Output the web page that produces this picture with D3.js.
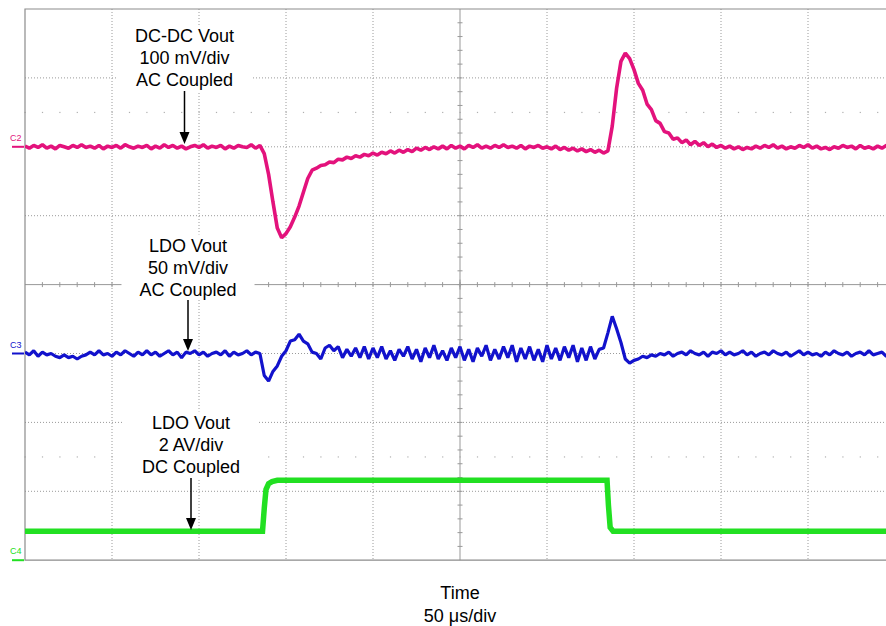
<!DOCTYPE html>
<html><head><meta charset="utf-8">
<script src="https://cdn.jsdelivr.net/npm/d3@7"></script>
<style>body{margin:0;background:#fff}svg{display:block}</style>
</head><body><svg id="c" width="886" height="626"></svg>
<script>
// ---- data ----
const timeStepUs = 2.5;           // sample spacing of C2 / C3 traces
const timeSpanUs = 500;           // 10 div x 50 us/div
const xTicksDiv = [0,1,2,3,4,5,6,7,8,9,10];
const yTicksDiv = [-4,-3,-2,-1,0,1,2,3,4];

// C2: DC-DC Vout, mV (100 mV/div, AC coupled), ref at +2 div
const c2mV = [
 1,-2,2,-1,3,-2,1,-3,2,0,
 -2,2,-1,3,-1,1,-2,2,-3,1,
 -1,2,-2,3,0,-2,1,-1,2,-3,
 1,-2,3,-1,2,-2,1,-3,0,2,
 -1,3,-2,1,-1,2,-3,1,-2,2,
 0,-1,3,-2,2,
 -10,-40,-80,-118,-132,-126,-116,-102,-86,-66,
 -46,-34,-31,-27,-26,-22,-23,-18,-19,-15,
 -17,-13,-15,-11,-13,-9,-12,-8,-10,-6,
 -9,-5,-8,-4,-7,
 -2,-5,-1,-4,0,-3,1,-3,2,-2,
 1,-3,2,-1,3,-2,1,-2,2,-1,
 3,-1,1,-2,2,-3,1,-1,2,-2,
 0,-3,1,-4,-1,-5,-2,-6,-3,-7,
 -4,-8,-5,-9,
 -6,30,85,124,136,128,112,92,82,62,
 54,38,34,22,20,11,13,6,10,3,
 8,2,6,0,4,-1,
 2,-2,1,-3,0,-4,-1,-3,1,-2,
 2,-1,3,-2,1,-3,0,-2,2,-1,
 3,-2,1,-3,-1,-4,0,-2,2,-1,
 1,-3,2,-2,0,-3,1,-2,2,-1,0
];

// C3: LDO Vout, mV (50 mV/div, AC coupled), ref at -1 div
const c3mV = [
 1,-1,2,-2,1,-1,0,-2,-3,-1,
 -3,-2,-4,-2,-1,1,-1,2,-1,0,
 -2,1,-1,2,0,-2,1,-1,2,-1,
 1,-2,0,2,-1,1,-3,1,0,2,
 -1,1,-2,0,1,-1,2,-2,1,-1,
 0,2,-1,1,
 0,-16,-20,-13,-9,-2,2,9,10,14,
 9,7,1,0,-4,4,6,2,5,-3,
 3,-2,4,-3,5,-4,
 4,-3,5,-4,2,-5,3,-2,5,-4,
 3,-6,4,-3,6,-4,2,-5,4,-3,
 5,-5,3,-6,4,-2,6,-5,3,-4,
 5,-3,6,-6,4,-4,5,-5,3,-6,
 6,-4,4,-5,5,-3,6,-6,4,-5,
 5,-4,3,
 4,15,27,18,8,-4,-7,-5,-4,-2,-3,-1,-2,
 0,-1,1,-2,0,1,-1,2,0,-1,
 1,-2,1,0,2,-1,1,-1,0,2,
 -1,1,-2,0,1,-1,2,0,-1,1,
 -2,0,2,-1,1,-1,0,-2,1,-1,
 2,0,-1,1,-2,0,1,-1,2,-1,
 0,1,-2,1,0
];

// C4: load step, A (2 A/div, DC coupled), ref at -4 div
const c4TimeUs = [0,136.5,137.5,138.5,140,142,145,334.5,335.3,336.3,338,500];
const c4Amp    = [0.84,0.84,1.5,2.05,2.22,2.28,2.32,2.32,1.6,0.95,0.84,0.84];

const labelsC2 = ["DC-DC Vout","100 mV/div","AC Coupled"];
const labelsC3 = ["LDO Vout","50 mV/div","AC Coupled"];
const labelsC4 = ["LDO Vout","2 AV/div","DC Coupled"];
const xTitle = ["Time","50 \u03bcs/div"];

// ---- layout ----
const L = 25, T = 9, divW = 87, divH = 68.9;
const svg = d3.select("#c");
const x = d3.scaleLinear([0, timeSpanUs], [L, L + 10*divW]);
const xDiv = d3.scaleLinear([0,10], [L, L + 10*divW]);
const yDiv = d3.scaleLinear([-4,4], [T + 8*divH, T]);
const B = yDiv(-4), R = xDiv(10), CX = xDiv(5), CY = yDiv(0);

const grid = svg.append("g");
grid.selectAll(".vg").data(xTicksDiv.filter(d=>d>0&&d<10&&d!==5)).join("line")
  .attr("x1",d=>xDiv(d)).attr("x2",d=>xDiv(d)).attr("y1",T).attr("y2",B)
  .attr("stroke","#9a9a9a").attr("stroke-width",1).attr("stroke-dasharray","1,2");
grid.selectAll(".hg").data(yTicksDiv.filter(d=>d>-4&&d<4&&d!==0)).join("line")
  .attr("y1",d=>yDiv(d)).attr("y2",d=>yDiv(d)).attr("x1",L).attr("x2",R)
  .attr("stroke","#9a9a9a").attr("stroke-width",1).attr("stroke-dasharray","1,2");
const dotX = d3.range(0, 50).map(k => k*0.2);
[2.5,-2.5].forEach(r=>{
  grid.append("g").selectAll("rect").data(dotX).join("rect")
    .attr("x",d=>xDiv(d)-0.5).attr("y",yDiv(r)-0.5).attr("width",1.2).attr("height",1.2)
    .attr("fill","#b0b0b0");
});
grid.append("line").attr("x1",L).attr("x2",R).attr("y1",CY).attr("y2",CY).attr("stroke","#999");
grid.append("line").attr("x1",CX).attr("x2",CX).attr("y1",T).attr("y2",B).attr("stroke","#999");
const minorX = d3.range(1,50).map(k=>k*0.2);
grid.append("g").selectAll("line").data(minorX).join("line")
  .attr("x1",d=>xDiv(d)).attr("x2",d=>xDiv(d)).attr("y1",CY-2.5).attr("y2",CY+2.5).attr("stroke","#999");
const minorY = d3.range(1,40).map(k=>-4+k*0.2);
grid.append("g").selectAll("line").data(minorY).join("line")
  .attr("y1",d=>yDiv(d)).attr("y2",d=>yDiv(d)).attr("x1",CX-2.5).attr("x2",CX+2.5).attr("stroke","#999");
grid.append("line").attr("x1",CX).attr("x2",CX).attr("y1",CY-5).attr("y2",CY+5).attr("stroke","#999");
grid.append("path").attr("d",`M${R},${T}H${L}V${B}H${R}`).attr("fill","none").attr("stroke","#8c8c8c").attr("stroke-width",1.2);

svg.append("clipPath").attr("id","pc").append("rect").attr("x",L).attr("y",T-10).attr("width",R-L).attr("height",B-T+20);

const colC2 = "#e3127c", colC3 = "#1212cc", colC4 = "#22e022";
const traces = svg.append("g").attr("clip-path","url(#pc)");
const lineIdx = (arr, off, per) => d3.line()
  .x((d,i)=>x(i*timeStepUs)).y(d=>yDiv(off + d/per))(arr);
traces.append("path").attr("d", d3.line().x((d,i)=>x(c4TimeUs[i])).y(d=>yDiv(-4 + d/2))(c4Amp))
  .attr("fill","none").attr("stroke",colC4).attr("stroke-width",5.5);
traces.append("path").attr("d", lineIdx(c3mV, -1, 50))
  .attr("fill","none").attr("stroke",colC3).attr("stroke-width",3.2).attr("stroke-linejoin","bevel");
traces.append("path").attr("d", lineIdx(c2mV, 2, 100))
  .attr("fill","none").attr("stroke",colC2).attr("stroke-width",3.6).attr("stroke-linejoin","bevel");

const chans = [["C2",2,colC2],["C3",-1,colC3],["C4",-4,colC4]];
chans.forEach(([n,ref,c])=>{
  svg.append("line").attr("x1",12).attr("x2",L-1).attr("y1",yDiv(ref)).attr("y2",yDiv(ref))
    .attr("stroke",c).attr("stroke-width",2);
  svg.append("text").attr("x",10).attr("y",yDiv(ref)-6).text(n)
    .attr("font-family","Arial, 'Liberation Sans', sans-serif").attr("font-size",9).attr("fill",c);
});

function annot(lines, cx, firstBase, arrowTop, arrowTip){
  const g = svg.append("g");
  const bg = g.append("rect").attr("fill","#fff");
  const t = g.append("text").attr("font-family","Arial, 'Liberation Sans', sans-serif")
    .attr("font-size",18).attr("fill","#000").attr("text-anchor","middle");
  lines.forEach((s,i)=>t.append("tspan").attr("x",cx).attr("y",firstBase+22*i).text(s));
  const bb = t.node().getBBox();
  bg.attr("x",bb.x-18).attr("y",bb.y-1).attr("width",bb.width+36).attr("height",arrowTop-bb.y+1);
  g.append("line").attr("x1",cx).attr("x2",cx).attr("y1",arrowTop).attr("y2",arrowTip-10)
    .attr("stroke","#000").attr("stroke-width",1.5);
  g.append("path").attr("d",`M${cx-5},${arrowTip-12}L${cx+5},${arrowTip-12}L${cx},${arrowTip}Z`).attr("fill","#000");
}
annot(labelsC2, 184.5, 42, 91, 144);
annot(labelsC3, 188, 251.5, 300, 351);
annot(labelsC4, 191, 428.5, 478, 530);

const xt = svg.append("text").attr("font-family","Arial, 'Liberation Sans', sans-serif")
  .attr("font-size",18).attr("text-anchor","middle").attr("fill","#000");
xTitle.forEach((s,i)=>xt.append("tspan").attr("x",CX).attr("y",599+23*i).text(s));
</script></body></html>
